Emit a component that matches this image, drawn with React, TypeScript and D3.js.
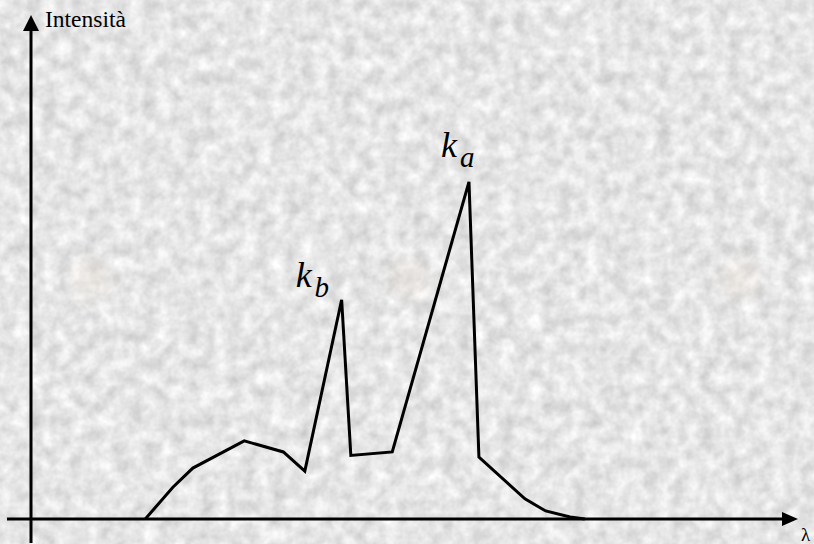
import React from 'react';
import * as d3 from 'd3';

// spectrum (arbitrary units)
const lambda = [1.49, 1.85, 2.11, 2.78, 3.29, 3.57, 4.05, 4.17, 4.71, 5.71, 5.84, 6.44, 6.71, 7.03, 7.22];
const intensity = [0, 6.3, 10.1, 15.5, 13.3, 9.5, 43.5, 12.6, 13.3, 66.9, 12.3, 4.0, 1.6, 0.4, 0];

const peakLabels = [
  { idx: 6, main: 'k', sub: 'b' },
  { idx: 9, main: 'k', sub: 'a' },
];

const yTitle = 'Intensità';
const xTitle = 'λ';

const width = 814;
const height = 544;

// where each label sits relative to its peak
const labelOffset: Record<string, [number, number]> = {
  b: [-46, -13],
  a: [-28, -25],
};

// faint warm spots in the background
const blobs = [92, 410, 740];

const App = () => {
  const x = d3.scaleLinear().domain([0, 10]).range([31, 798]);
  const y = d3.scaleLinear().domain([0, 100]).range([519, 15]);

  const pts = lambda.map((l, i) => ({ l, v: intensity[i] }));

  const spectrum = d3.line<{ l: number; v: number }>()
    .x(d => x(d.l))
    .y(d => y(d.v));

  const x0 = x(0), y0 = y(0);
  const xEnd = x.range()[1], yTop = y.range()[1];

  return (
    <svg width={width} height={height}
      style={{ position: 'absolute', left: 0, top: 0, display: 'block' }}>
      <defs>
        <filter id="granite" x="0" y="0" width="100%" height="100%"
          colorInterpolationFilters="sRGB">
          <feTurbulence type="fractalNoise" baseFrequency="0.07" numOctaves={3} seed={4} />
          <feColorMatrix type="matrix"
            values="0.26 0 0 0 0.77  0.26 0 0 0 0.77  0.26 0 0 0 0.77  0 0 0 0 1" />
        </filter>
        <radialGradient id="warm">
          <stop offset="0%" stopColor="#efe2d4" stopOpacity={0.35} />
          <stop offset="100%" stopColor="#efe2d4" stopOpacity={0} />
        </radialGradient>
      </defs>

      <rect width={width} height={height} filter="url(#granite)" />
      {blobs.map(bx => (
        <circle key={bx} cx={bx} cy={278} r={30} fill="url(#warm)" />
      ))}

      {/* axes */}
      <line x1={7} x2={xEnd - 12} y1={y0} y2={y0} stroke="#000" strokeWidth={3} />
      <path d={`M${xEnd},${y0} L${xEnd - 16},${y0 - 7} L${xEnd - 16},${y0 + 7} Z`} fill="#000" />
      <line x1={x0} x2={x0} y1={yTop + 12} y2={543} stroke="#000" strokeWidth={3} />
      <path d={`M${x0},${yTop} L${x0 - 8},${yTop + 16} L${x0 + 8},${yTop + 16} Z`} fill="#000" />

      <text x={x0 + 14} y={27} fontFamily="'Liberation Serif', serif" fontSize={23.5}>{yTitle}</text>
      <text x={xEnd + 3} y={541} fontFamily="'Liberation Serif', serif" fontSize={19}>{xTitle}</text>

      {/* spectrum */}
      <path d={spectrum(pts) || ''} fill="none" stroke="#000" strokeWidth={3}
        strokeLinejoin="miter" />

      {peakLabels.map(p => {
        const px = x(lambda[p.idx]);
        const py = y(intensity[p.idx]);
        const [dx, dy] = labelOffset[p.sub];
        return (
          <text key={p.sub} x={px + dx} y={py + dy}
            fontFamily="'Liberation Serif', serif" fontStyle="italic" fontSize={36}>
            {p.main}
            <tspan dx={3} dy={10} fontSize={29}>{p.sub}</tspan>
          </text>
        );
      })}
    </svg>
  );
};

export default App;
